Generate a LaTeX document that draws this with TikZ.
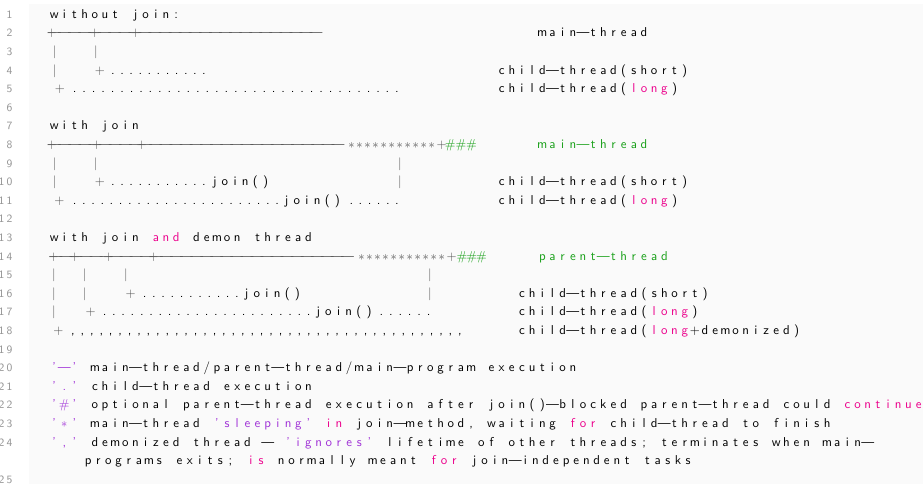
\documentclass[tikz,border=0pt]{standalone}
\usepackage{xcolor}
\definecolor{kwc}{RGB}{236,0,140}
\definecolor{strc}{RGB}{160,50,215}
\definecolor{cmc}{RGB}{25,160,25}
\definecolor{numc}{RGB}{150,150,150}
\definecolor{artc}{RGB}{85,85,85}
\definecolor{bgc}{RGB}{250,250,250}
\newlength\cw
\setlength\cw{8.136pt}
\makeatletter
\newcommand\spr[2][\cw]{\def\spr@w{#1}\@tfor\spr@t:=#2\do{\makebox[\spr@w][c]{\spr@t}}}
\makeatother
\newcommand\rep[3]{\foreach\ri in {1,...,#1}{\makebox[#2][c]{#3}}}
\newcommand\mn{\textemdash}
\newcommand\stx{\ensuremath{\ast}}
\newcommand\tx{\sffamily\fontsize{10.3}{12}\selectfont}
\newcommand\nf{\sffamily\fontsize{9}{11}\selectfont}
\newcommand\numspr[1]{\edef\numtmp{\noexpand\spr[6.4pt]{#1}}\numtmp}
\def\X#1{49.1+10.17*#1}
\begin{document}
\begin{tikzpicture}[x=0.8pt,y=-0.8pt,
  every node/.style={inner sep=0pt,outer sep=0pt,font=\tx},
  tw/.style={anchor=base west},
  tc/.style={anchor=base},
  artx/.style={text=artc},
  kwx/.style={text=kwc},
  strx/.style={text=strc},
  cmx/.style={text=cmc},
  lno/.style={anchor=base east,text=numc,font=\nf}]
\useasboundingbox (0,0) rectangle (923,484);
\fill[bgc] (29,4) rectangle (923,484);
% line numbers
\foreach \n in {1,...,24}{
  \node[lno] (n\n) at (13.5,{18.3+18.6*(\n-1)}) {\numspr{\n}};
}
\node[lno] (n25) at (13.5,483.3) {\spr[6.4pt]{25}};
% ---------- L1 ----------
\node[tw] (l1) at ({\X{0}},18.3) {\spr{without~join:}};
% ---------- L2 ----------
\node[tw,artx] (l2d) at (49.5,36.9) {\rep{27}{8.05pt}{\mn}};
\node[tc,artx] (l2pa) at (51.7,36.9) {+};
\node[tc,artx] (l2pb) at (95,36.9) {+};
\node[tc,artx] (l2pc) at (135.7,36.9) {+};
\node[tw] (l2r) at ({\X{48}},36.9) {\spr{main\mn thread}};
% ---------- L3 ----------
\node[tc,artx] (l3a) at (54.3,55.5) {|};
\node[tc,artx] (l3b) at (96,55.5) {|};
% ---------- L4 ----------
\node[tc,artx] (l4a) at (54.3,74.1) {|};
\node[tc,artx] (l4p) at (100,74.1) {+};
\node[tw] (l4d) at (108.45,74.1) {\rep{11}{7.28pt}{.}};
\node[tw] (l4r) at ({\X{44}},74.1) {\spr{child\mn thread(short)}};
% ---------- L5 ----------
\node[tc,artx] (l5p) at (60,92.7) {+};
\node[tw] (l5d) at (69.96,92.7) {\rep{35}{7.584pt}{.}};
\node[tw] (l5r) at ({\X{44}},92.7) {\spr{child\mn thread(}};
\node[tw,kwx] (l5k) at ({\X{57}},92.7) {\spr{long}};
\node[tw] (l5e) at ({\X{61}},92.7) {\spr{)}};
% ---------- L7 ----------
\node[tw] (l7) at ({\X{0}},129.9) {\spr{with~join}};
% ---------- L8 ----------
\node[tw,artx] (l8d) at (49.5,148.5) {\rep{29}{8.1pt}{\mn}};
\node[tc,artx] (l8pa) at (51.7,148.5) {+};
\node[tc,artx] (l8pb) at (96.7,148.5) {+};
\node[tc,artx] (l8pc) at (141.7,148.5) {+};
\node[tw,artx] (l8s) at (347.5,148.5) {\rep{11}{6.424pt}{\stx}};
\node[tc,artx] (l8pd) at (441.7,148.5) {+};
\node[tw,cmx] (l8h) at (444.9,148.5) {\rep{3}{8.52pt}{\#}};
\node[tw,cmx] (l8r) at ({\X{48}},148.5) {\spr{main\mn thread}};
% ---------- L9 ----------
\node[tc,artx] (l9a) at (54.3,167.1) {|};
\node[tc,artx] (l9b) at (95.7,167.1) {|};
\node[tc,artx] (l9c) at (400,167.1) {|};
% ---------- L10 ----------
\node[tc,artx] (l10a) at (54.3,185.7) {|};
\node[tc,artx] (l10p) at (100,185.7) {+};
\node[tw] (l10d) at (108.45,185.7) {\rep{11}{7.28pt}{.}};
\node[tw] (l10j) at (209.7,185.7) {\spr{join()}};
\node[tc,artx] (l10c) at (400,185.7) {|};
\node[tw] (l10r) at ({\X{44}},185.7) {\spr{child\mn thread(short)}};
% ---------- L11 ----------
\node[tc,artx] (l11p) at (59.3,204.3) {+};
\node[tw] (l11d) at (70.1,204.3) {\rep{23}{7.36pt}{.}};
\node[tw] (l11j) at (281.5,204.3) {\spr{join()}};
\node[tw] (l11e) at (346.84,204.3) {\rep{6}{7.3pt}{.}};
\node[tw] (l11r) at ({\X{44}},204.3) {\spr{child\mn thread(}};
\node[tw,kwx] (l11k) at ({\X{57}},204.3) {\spr{long}};
\node[tw] (l11z) at ({\X{61}},204.3) {\spr{)}};
% ---------- L13 ----------
\node[tw] (l13a) at ({\X{0}},241.5) {\spr{with~join}};
\node[tw,kwx] (l13k) at ({\X{10}},241.5) {\spr{and}};
\node[tw] (l13b) at ({\X{14}},241.5) {\spr{demon~thread}};
% ---------- L14 ----------
\node[tw,artx] (l14d) at (51,260.1) {\rep{30}{8.04pt}{\mn}};
\node[tc,artx] (l14pa) at (53.3,260.1) {+};
\node[tc,artx] (l14pb) at (75,260.1) {+};
\node[tc,artx] (l14pc) at (108.3,260.1) {+};
\node[tc,artx] (l14pd) at (153.3,260.1) {+};
\node[tw,artx] (l14s) at (357.5,260.1) {\rep{11}{6.424pt}{\stx}};
\node[tc,artx] (l14pe) at (451.7,260.1) {+};
\node[tw,cmx] (l14h) at (457,260.1) {\rep{3}{7.84pt}{\#}};
\node[tw,cmx] (l14r) at ({\X{48}},260.1) {\spr{parent\mn thread}};
% ---------- L15 ----------
\node[tc,artx] (l15a) at (54,278.7) {|};
\node[tc,artx] (l15b) at (84.3,278.7) {|};
\node[tc,artx] (l15c) at (126,278.7) {|};
\node[tc,artx] (l15d) at (430,278.7) {|};
% ---------- L16 ----------
\node[tc,artx] (l16a) at (54,297.3) {|};
\node[tc,artx] (l16b) at (84.3,297.3) {|};
\node[tc,artx] (l16p) at (130.7,297.3) {+};
\node[tw] (l16d) at (140.1,297.3) {\rep{11}{7.384pt}{.}};
\node[tw] (l16j) at (241.5,297.3) {\spr{join()}};
\node[tc,artx] (l16c) at (430,297.3) {|};
\node[tw] (l16r) at ({\X{46}},297.3) {\spr{child\mn thread(short)}};
% ---------- L17 ----------
\node[tc,artx] (l17a) at (54,315.9) {|};
\node[tc,artx] (l17p) at (90.7,315.9) {+};
\node[tw] (l17d) at (100.1,315.9) {\rep{23}{7.414pt}{.}};
\node[tw] (l17j) at (313.2,315.9) {\spr{join()}};
\node[tw] (l17e) at (376.7,315.9) {\rep{6}{7.552pt}{.}};
\node[tw] (l17r) at ({\X{46}},315.9) {\spr{child\mn thread(}};
\node[tw,kwx] (l17k) at ({\X{59}},315.9) {\spr{long}};
\node[tw] (l17z) at ({\X{63}},315.9) {\spr{)}};
% ---------- L18 ----------
\node[tc,artx] (l18p) at (58.3,334.5) {+};
\node[tw] (l18d) at (68.3,334.5) {\rep{42}{7.55pt}{,}};
\node[tw] (l18r) at ({\X{46}},334.5) {\spr{child\mn thread(}};
\node[tw,kwx] (l18k) at ({\X{59}},334.5) {\spr{long}};
\node[tw] (l18z) at ({\X{63}},334.5) {\spr{+demonized)}};
% ---------- L20 ----------
\node[tw,strx] (l20s) at ({\X{0}},371.7) {\spr{'\mn'}};
\node[tw] (l20t) at ({\X{4}},371.7) {\spr{main\mn thread/parent\mn thread/main\mn program~execution}};
% ---------- L21 ----------
\node[tw,strx] (l21s) at ({\X{0}},390.3) {\spr{'.'}};
\node[tw] (l21t) at ({\X{4}},390.3) {\spr{child\mn thread~execution}};
% ---------- L22 ----------
\node[tw,strx] (l22s) at ({\X{0}},408.9) {\spr{'\#'}};
\node[tw] (l22t) at ({\X{4}},408.9) {\spr{optional~parent\mn thread~execution~after~join()\mn blocked~parent\mn thread~could}};
\node[tw,kwx] (l22k) at ({\X{78}},408.9) {\spr{continue}};
% ---------- L23 ----------
\node[tw,strx] (l23s) at ({\X{0}},427.5) {\spr{'\stx'}};
\node[tw] (l23a) at ({\X{4}},427.5) {\spr{main\mn thread}};
\node[tw,strx] (l23q) at ({\X{16}},427.5) {\spr{'sleeping'}};
\node[tw,kwx] (l23k) at ({\X{27}},427.5) {\spr{in}};
\node[tw] (l23b) at ({\X{30}},427.5) {\spr{join\mn method,~waiting}};
\node[tw,kwx] (l23f) at ({\X{51}},427.5) {\spr{for}};
\node[tw] (l23c) at ({\X{55}},427.5) {\spr{child\mn thread~to~finish}};
% ---------- L24 ----------
\node[tw,strx] (l24s) at ({\X{0}},446.1) {\spr{','}};
\node[tw] (l24a) at ({\X{4}},446.1) {\spr{demonized~thread}};
\node[tw] (l24m) at ({\X{21}},446.1) {\spr{\mn}};
\node[tw,strx] (l24q) at ({\X{23}},446.1) {\spr{'ignores'}};
\node[tw] (l24b) at ({\X{33}},446.1) {\spr{lifetime}};
\node[tw] (l24c) at ({\X{42}},446.1) {\spr{of~other~threads;~terminates~when~main\mn}};
% ---------- L24 continued ----------
\node[tw] (l24d) at (83,464.7) {\spr{programs~exits;}};
\node[tw,kwx] (l24k) at ({83+10.17*16},464.7) {\spr{is}};
\node[tw] (l24e) at ({83+10.17*19},464.7) {\spr{normally~meant}};
\node[tw,kwx] (l24f) at ({83+10.17*34},464.7) {\spr{for}};
\node[tw] (l24g) at ({83+10.17*38},464.7) {\spr{join\mn independent~tasks}};
\end{tikzpicture}
\end{document}
